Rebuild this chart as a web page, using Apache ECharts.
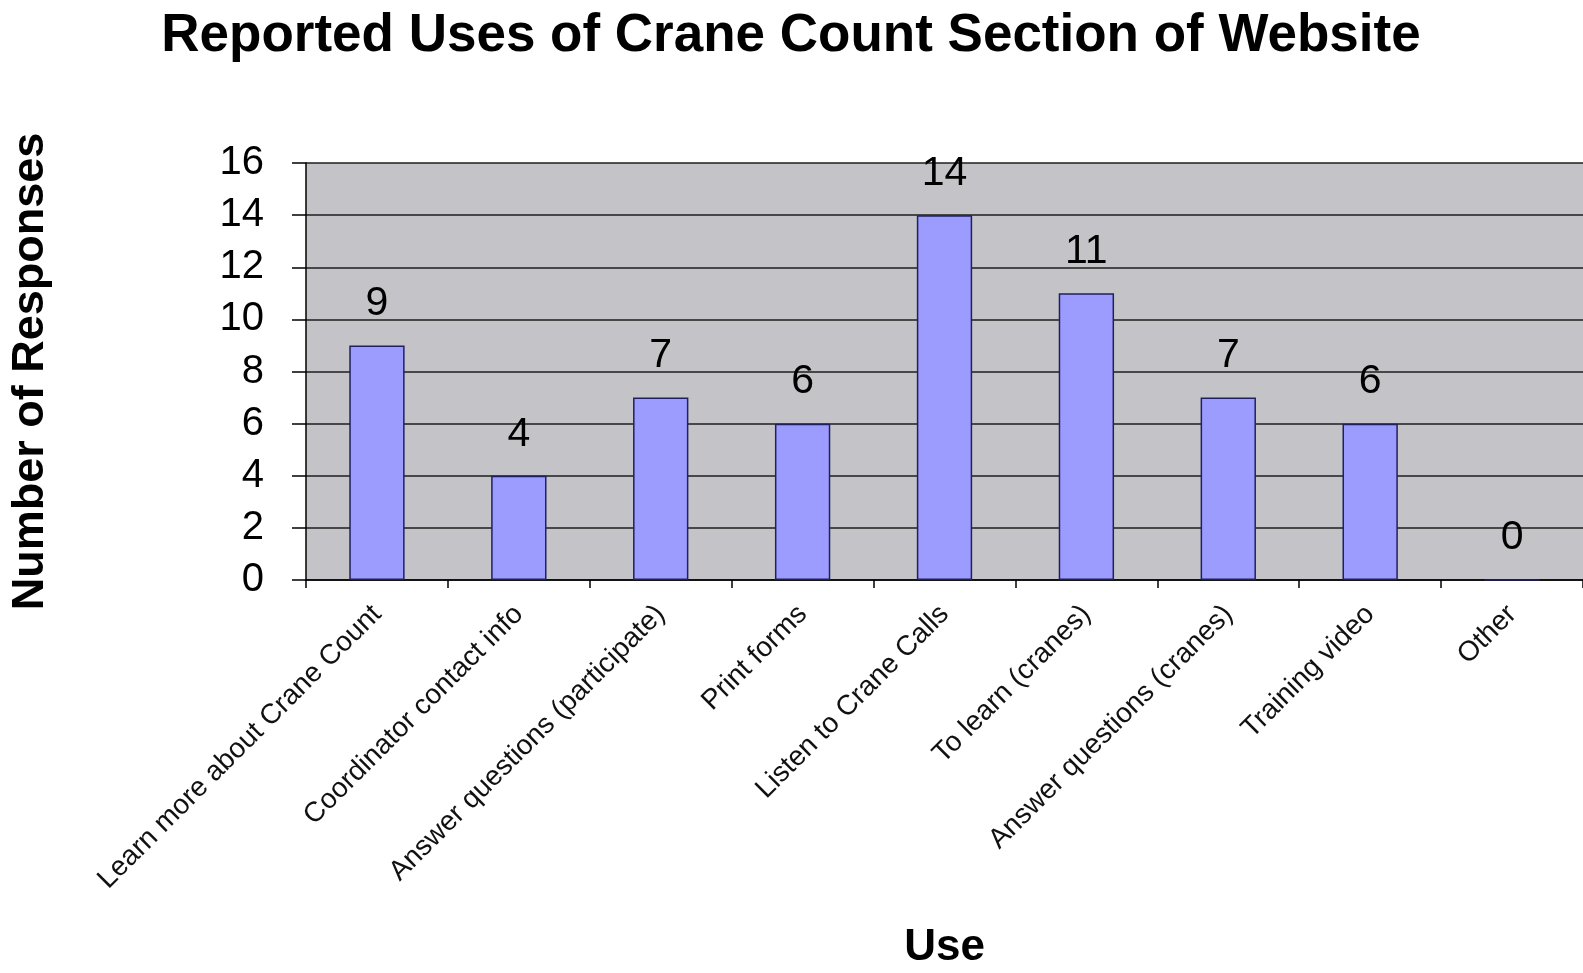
<!DOCTYPE html>
<html>
<head>
<meta charset="utf-8">
<title>Reported Uses of Crane Count Section of Website</title>
<script src="https://cdn.jsdelivr.net/npm/echarts@6/dist/echarts.min.js"></script>
<style>
  html, body { margin: 0; padding: 0; background: #ffffff; }
  #chart { width: 1583px; height: 973px; }
</style>
</head>
<body>
<div id="chart"></div>
<script>
// Survey categories and response counts
const categories = [
  'Learn more about Crane Count',
  'Coordinator contact info',
  'Answer questions (participate)',
  'Print forms',
  'Listen to Crane Calls',
  'To learn (cranes)',
  'Answer questions (cranes)',
  'Training video',
  'Other'
];
const responses = [9, 4, 7, 6, 14, 11, 7, 6, 0];

const yMin = 0;
const yMax = 16;
const yStep = 2;

const font = '"Liberation Sans", Arial, sans-serif';

const chart = echarts.init(document.getElementById('chart'), null, { renderer: 'canvas' });

chart.setOption({
  backgroundColor: '#ffffff',
  animation: false,
  title: {
    text: 'Reported Uses of Crane Count Section of Website',
    left: 786,
    top: 5,
    textAlign: 'center',
    textStyle: { fontFamily: font, fontSize: 53, fontWeight: 'bold', color: '#000000' }
  },
  grid: {
    left: 305,
    right: 0,
    top: 163,
    bottom: 393,
    show: true,
    backgroundColor: '#c4c4c8',
    borderWidth: 0
  },
  xAxis: {
    type: 'category',
    data: categories,
    name: 'Use',
    nameLocation: 'middle',
    nameGap: 346,
    nameTextStyle: { fontFamily: font, fontSize: 44, fontWeight: 'bold', color: '#000000' },
    axisLine: { show: true, lineStyle: { color: '#000000', width: 1.5 } },
    axisTick: { show: true, alignWithLabel: false, length: 8, lineStyle: { color: '#000000', width: 1.5 } },
    axisLabel: {
      interval: 0,
      rotate: 45,
      margin: 30,
      fontFamily: font,
      fontSize: 28,
      color: '#111111'
    },
    splitLine: { show: false }
  },
  yAxis: {
    type: 'value',
    min: yMin,
    max: yMax,
    interval: yStep,
    name: 'Number of Responses',
    nameLocation: 'middle',
    nameRotate: 90,
    nameGap: 253,
    nameTextStyle: { fontFamily: font, fontSize: 45, fontWeight: 'bold', color: '#000000' },
    axisLine: { show: true, lineStyle: { color: '#000000', width: 1.5 } },
    axisTick: { show: true, length: 14, lineStyle: { color: '#000000', width: 1.5 } },
    axisLabel: { margin: 42, fontFamily: font, fontSize: 40, color: '#000000' },
    splitLine: { show: true, lineStyle: { color: '#1e1e1e', width: 1.5 } }
  },
  series: [{
    type: 'bar',
    data: responses,
    barWidth: '39%',
    itemStyle: { color: '#9c9cff', borderColor: '#202060', borderWidth: 1.5 },
    label: {
      show: true,
      position: 'top',
      distance: 21,
      fontFamily: font,
      fontSize: 41,
      color: '#000000'
    }
  }]
});
</script>
</body>
</html>
